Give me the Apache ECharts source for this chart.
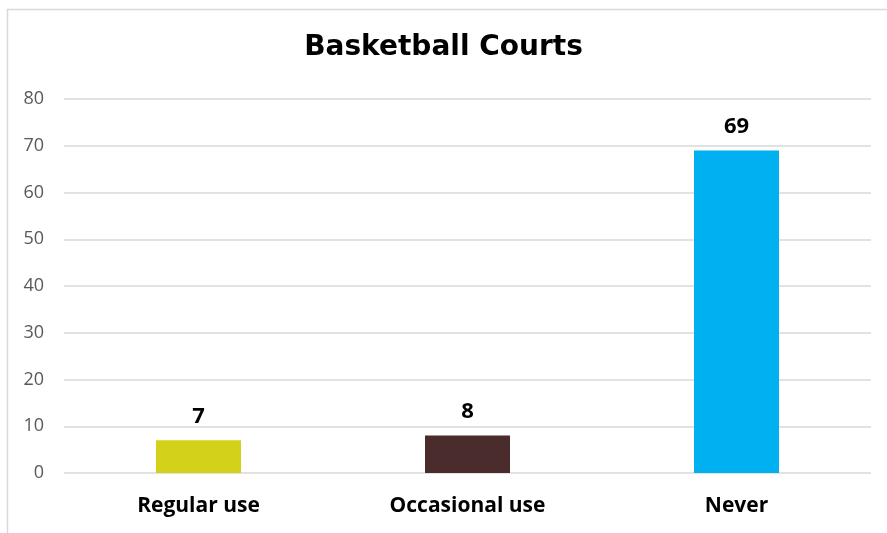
<!DOCTYPE html>
<html><head><meta charset="utf-8">
<script src="https://cdn.jsdelivr.net/npm/echarts@6/dist/echarts.min.js"></script>
<style>html,body{margin:0;padding:0;background:#fff}#c{width:887px;height:533px}</style>
</head><body><div id="c"></div>
<script>
const categories = ['Regular use', 'Occasional use', 'Never'];
const values = [7, 8, 69];
const barColors = ['#D4D11A', '#4A2C2C', '#00B0F0'];
const yTicks = [0, 10, 20, 30, 40, 50, 60, 70, 80];

const chart = echarts.init(document.getElementById('c'), null, {renderer: 'canvas'});
chart.setOption({
  animation: false,
  backgroundColor: '#fff',
  graphic: [{
    type: 'rect', left: 5, top: 7, shape: {width: 900, height: 540},
    style: {fill: 'none', stroke: '#D9D9D9', lineWidth: 1.5}, silent: true
  }],
  title: {
    text: 'Basketball Courts', left: 'center', top: 29,
    textStyle: {fontFamily: '"DejaVu Sans", sans-serif', fontWeight: 'bold', fontSize: 28, color: '#000'}
  },
  grid: {left: 64, right: 16, top: 99, bottom: 60, containLabel: false},
  xAxis: {
    type: 'category', data: categories,
    axisLine: {show: false}, axisTick: {show: false},
    axisLabel: {fontFamily: '"Open Sans", "Noto Sans", sans-serif', fontWeight: 'bold', fontSize: 21, color: '#000', margin: 23}
  },
  yAxis: {
    type: 'value', min: yTicks[0], max: yTicks[yTicks.length - 1], interval: 10,
    axisLine: {show: false}, axisTick: {show: false},
    splitLine: {lineStyle: {color: '#D9D9D9', width: 1.5}},
    axisLabel: {fontFamily: '"Open Sans", "Noto Sans", sans-serif', fontSize: 18, color: '#595959', margin: 20}
  },
  series: [{
    type: 'bar', barWidth: 85,
    data: values.map((v, i) => ({value: v, itemStyle: {color: barColors[i]}})),
    label: {show: true, position: 'top', distance: 13, fontFamily: '"Open Sans", "Noto Sans", sans-serif', fontWeight: 'bold', fontSize: 22, color: '#000'}
  }]
});
</script></body></html>
